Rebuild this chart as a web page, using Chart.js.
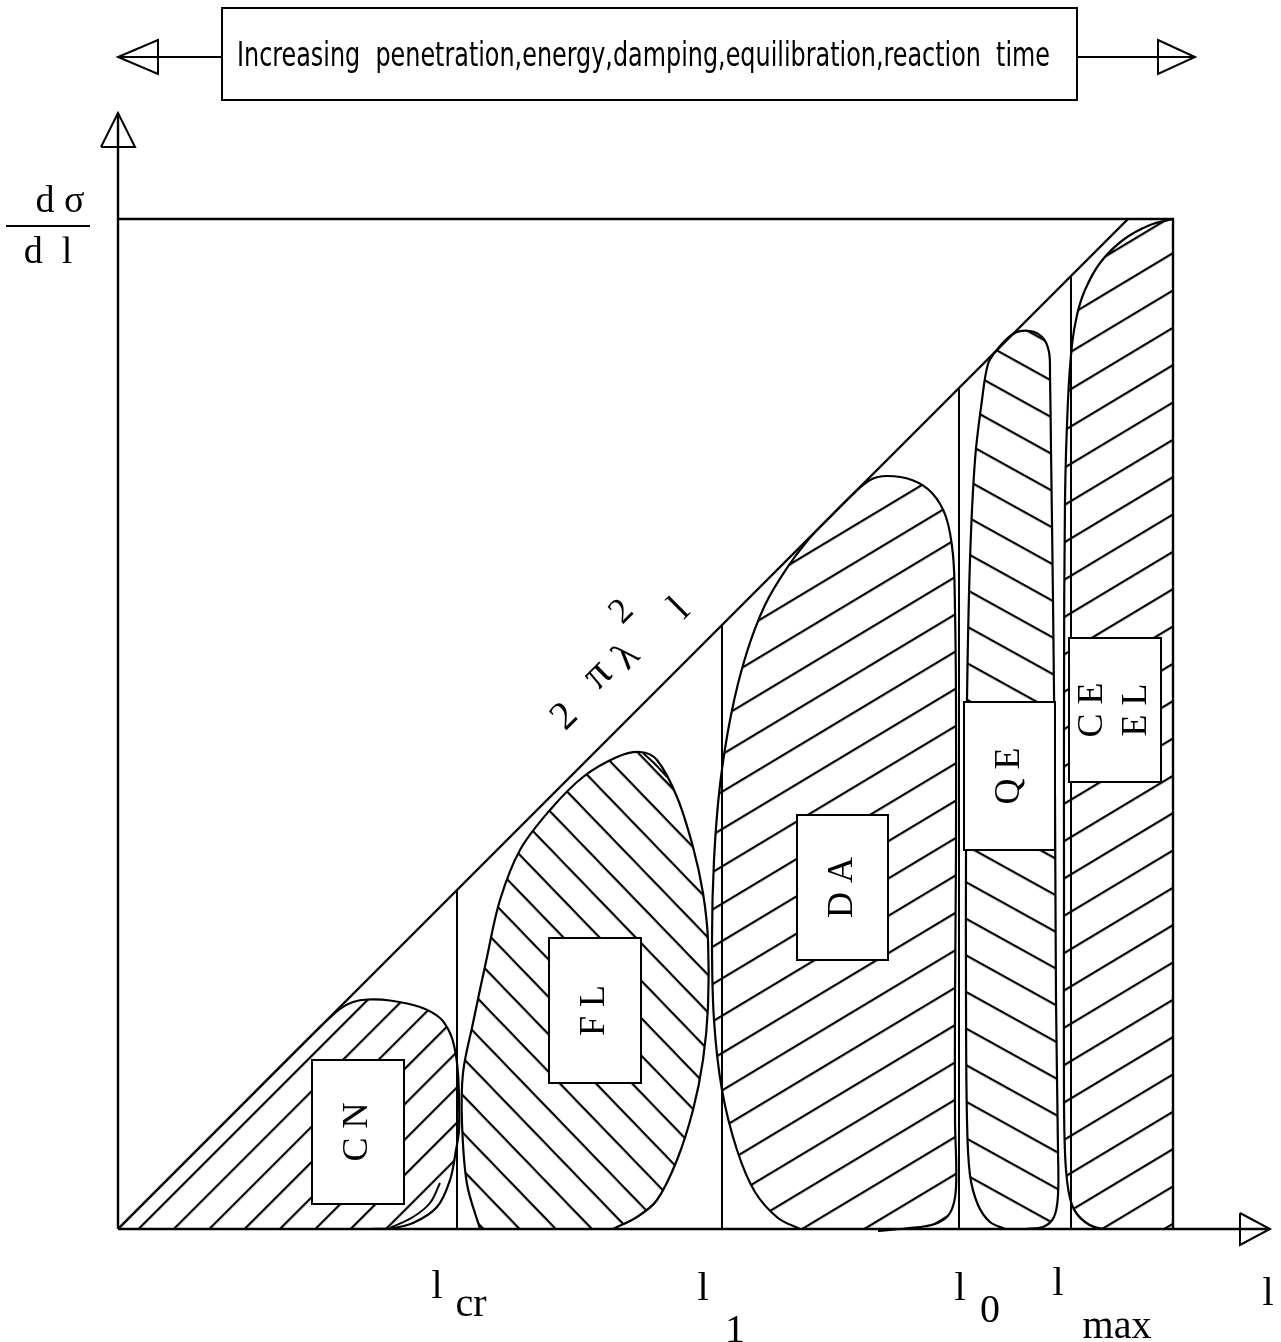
<!DOCTYPE html>
<html>
<head>
<meta charset="utf-8">
<title>Reaction mechanisms versus angular momentum</title>
<script src="https://cdn.jsdelivr.net/npm/chart.js@4.4.1/dist/chart.umd.min.js"></script>
<style>
  html, body { margin: 0; padding: 0; background: #fff; }
  #wrap { position: relative; width: 1281px; height: 1342px; }
</style>
</head>
<body>
<div id="wrap"><canvas id="chart" width="1281" height="1342"></canvas></div>
<script>
// ---------- data: angular momentum l and dσ/dl, arbitrary units ----------
const lRange = [0, 105.5];
const sigmaRange = [0, 101];
const grazingLine = [[0, 0], [101, 101]];          // dσ/dl = 2πλ² l
const lMarks = [33.9, 60.4, 84.1, 95.3];            // l_cr, l_1, l_0, l_max
const lMarkSubscripts = ['cr', '1', '0', 'max'];
const regionNames = ['CN', 'FL', 'DA', 'QE', 'CEEL'];
const regionLabels = [['C N'], ['F L'], ['D A'], ['Q E'], ['C E', 'E L']];

// region outlines (l, dσ/dl)
const cnOutline = [[0,0],[10,10],[20,20],[22.2,22.0],[23.5,22.7],[25,22.95],[27.2,22.85],[30.2,22.2],[32.2,21.1],
  [33.2,19.6],[33.7,17.9],[34.0,15.6],[34.1,12.9],[34.1,9.9],[33.8,7.9],[33.2,4.9],[31.9,2.2],[29.5,0.6],[27.2,0.05],[25.2,0]];
const flOutline = [[36.2,0],[34.9,4.5],[34.4,10.6],[34.5,15.6],[35.5,20.6],[36.9,27.2],[38.2,32.9],[40.2,37.9],[43.2,41.9],
  [46.5,45.2],[49.9,47.2],[52.2,47.7],[53.9,46.9],[55.9,43.2],[57.5,38.2],[58.5,33.6],[59.0,28.9],[59.0,22.2],[58.5,16.9],
  [57.5,11.9],[55.9,6.9],[53.9,2.9],[51.9,1.2],[49.5,0]];
const daOutline = [[68.2,0],[66.0,1.1],[63.7,3.7],[61.9,7.9],[60.4,13.9],[59.6,20.9],[59.4,28.9],[59.6,36.9],[60.2,44.4],
  [61.3,51.4],[62.8,57.4],[64.7,62.4],[66.9,66.1],[69.0,68.9],[71.2,71.2],[73.3,73.3],[75.2,74.9],[76.9,75.3],[79.4,74.9],
  [81.4,73.6],[82.8,71.2],[83.5,67.4],[83.7,61.9],[83.8,52.9],[83.8,37.9],[83.7,22.9],[83.7,10.9],[83.8,4.1],[83.2,1.6],
  [81.7,0.5],[78.7,0.05],[76.0,-0.2]];
const qeOutline = [[88.7,0],[87.2,0.7],[86.0,2.4],[85.2,5.4],[84.9,10.9],[84.8,22.9],[84.8,37.9],[84.9,52.9],[85.2,66.9],
  [85.7,76.9],[86.4,82.9],[87.0,86.5],[87.8,87.8],[89.5,89.5],[91.2,89.8],[92.5,89.1],[93.1,87.7],[93.2,85.4],[93.3,77.9],
  [93.5,62.9],[93.7,42.9],[93.8,22.9],[94.0,7.9],[94.0,3.4],[93.6,1.2],[92.5,0.2],[90.7,0]];
const ceelOutline = [[105.5,101],[103.2,100.4],[100.5,98.9],[98.2,96.6],[96.7,93.9],[95.9,91.4],[95.4,88.4],[95.0,82.9],
  [94.7,72.9],[94.6,52.9],[94.6,32.9],[94.6,12.9],[94.8,5.9],[95.4,2.4],[96.7,0.7],[98.6,0],[105.5,0]];
const cnInnerEdge = [[27.2,0.1],[29.5,1.2],[31.2,2.6],[32.2,4.6]];
const flInnerEdge = [[52.5,47.6],[53.6,46.6],[54.9,45.2]];

// ---------- styling ----------
const INK = '#000';
const hatchStyle = {
  CN:   { angle: -45, spacing: 25, anchor: [1.9, 0] },
  FL:   { angle: 46,  spacing: 26, anchor: [36.7, 0] },
  DA:   { angle: -31, spacing: 32, anchor: [68.2, 0] },
  QE:   { angle: 29,  spacing: 32, anchor: [88.2, 0] },
  CEEL: { angle: -31, spacing: 32, anchor: [98.2, 0] }
};
// label boxes: [l0, l1, s0, s1] in axis units
const labelBoxes = {
  CN: [19.4, 28.6, 2.5, 16.9],
  FL: [43.1, 52.3, 14.6, 29.1],
  DA: [67.9, 77.0, 26.9, 41.4],
  QE: [84.6, 93.7, 37.9, 52.7],
  CEEL: [95.1, 104.3, 44.7, 59.1]
};

const canvas = document.getElementById('chart');
const ctx0 = canvas.getContext('2d');

function makeHatch(spacing) {
  const tile = document.createElement('canvas');
  tile.width = 8; tile.height = spacing;
  const t = tile.getContext('2d');
  t.fillStyle = INK;
  t.fillRect(0, 0, 8, 2.2);
  return ctx0.createPattern(tile, 'repeat');
}
const patterns = {};
regionNames.forEach(n => { patterns[n] = makeHatch(hatchStyle[n].spacing); });

const toXY = arr => arr.map(([x, y]) => ({ x, y }));
function lineDs(points, extra) {
  return Object.assign({
    data: toXY(points), borderColor: INK, borderWidth: 2.4, pointRadius: 0,
    fill: false, tension: 0, clip: false
  }, extra || {});
}
function regionDs(name, outline) {
  return lineDs(outline, { fill: 'shape', backgroundColor: patterns[name], tension: 0.35, borderWidth: 2.2 });
}

const datasets = [
  // frame: top edge and right edge
  lineDs([[0, sigmaRange[1]], [lRange[1], sigmaRange[1]], [lRange[1], 0]]),
  // grazing line
  lineDs(grazingLine),
  // characteristic l values
  ...lMarks.map(l => lineDs([[l, 0], [l, l]], { borderWidth: 2 })),
  // axes with open arrowheads
  lineDs([[0, 0], [115.2, 0]]),
  lineDs([[112.2, 1.6], [115.2, 0], [112.2, -1.6], [112.2, 1.6]], { borderWidth: 2 }),
  lineDs([[0, 0], [0, 111.6]]),
  lineDs([[-1.7, 108.2], [0, 111.6], [1.7, 108.2], [-1.7, 108.2]], { borderWidth: 2 }),
  // hatched regions
  regionDs('CN', cnOutline),
  regionDs('FL', flOutline),
  regionDs('DA', daOutline),
  regionDs('QE', qeOutline),
  regionDs('CEEL', ceelOutline),
  lineDs(cnInnerEdge, { tension: 0.35, borderWidth: 2 }),
  lineDs(flInnerEdge, { tension: 0.35, borderWidth: 2 })
];

const SERIF = '"Liberation Serif", "DejaVu Serif", serif';

function fitText(ctx, text, cx, cy, width) {
  const w = ctx.measureText(text).width;
  ctx.save();
  ctx.translate(cx, cy);
  ctx.scale(width / w, 1);
  ctx.fillText(text, 0, 0);
  ctx.restore();
}

const diagramDecor = {
  id: 'diagramDecor',
  beforeDatasetsDraw(chart) {
    const X = v => chart.scales.x.getPixelForValue(v);
    const Y = v => chart.scales.y.getPixelForValue(v);
    regionNames.forEach(n => {
      const h = hatchStyle[n];
      patterns[n].setTransform(new DOMMatrix().translate(X(h.anchor[0]), Y(h.anchor[1])).rotate(h.angle));
    });
  },
  afterDatasetsDraw(chart) {
    const ctx = chart.ctx;
    const X = v => chart.scales.x.getPixelForValue(v);
    const Y = v => chart.scales.y.getPixelForValue(v);
    ctx.save();
    regionNames.forEach((n, i) => {
      const [a, b, c, d] = labelBoxes[n];
      const x0 = X(a), x1 = X(b), y0 = Y(d), y1 = Y(c);
      ctx.fillStyle = '#fff';
      ctx.fillRect(x0, y0, x1 - x0, y1 - y0);
      ctx.strokeStyle = INK; ctx.lineWidth = 2;
      ctx.strokeRect(x0, y0, x1 - x0, y1 - y0);
      const lines = regionLabels[i];
      ctx.fillStyle = INK;
      ctx.font = '36px ' + SERIF;
      ctx.textAlign = 'center'; ctx.textBaseline = 'middle';
      const cx = (x0 + x1) / 2, cy = (y0 + y1) / 2;
      const gap = 44;
      lines.forEach((t, k) => {
        ctx.save();
        ctx.translate(cx + (k - (lines.length - 1) / 2) * gap, cy);
        ctx.rotate(-Math.PI / 2);
        ctx.fillText(t, 0, 0);
        ctx.restore();
      });
    });
    ctx.restore();
  },
  afterDraw(chart) {
    const ctx = chart.ctx;
    const X = v => chart.scales.x.getPixelForValue(v);
    const Y = v => chart.scales.y.getPixelForValue(v);
    ctx.save();
    ctx.fillStyle = INK; ctx.strokeStyle = INK;

    // banner across the top
    const bx0 = X(10.4), bx1 = X(95.9), by0 = Y(122.1), by1 = Y(112.9), bym = Y(117.2);
    ctx.lineWidth = 2;
    ctx.strokeRect(bx0, by0, bx1 - bx0, by1 - by0);
    ctx.beginPath();
    ctx.moveTo(X(0), bym); ctx.lineTo(bx0, bym);
    ctx.moveTo(bx1, bym); ctx.lineTo(X(107.7), bym);
    // open arrowheads
    ctx.moveTo(X(4.0), bym - 17); ctx.lineTo(X(0), bym); ctx.lineTo(X(4.0), bym + 17); ctx.closePath();
    ctx.moveTo(X(104.0), bym - 17); ctx.lineTo(X(107.7), bym); ctx.lineTo(X(104.0), bym + 17); ctx.closePath();
    ctx.stroke();
    ctx.font = '33px "Liberation Sans Narrow", "DejaVu Sans Condensed", "Liberation Sans", sans-serif';
    ctx.textAlign = 'center'; ctx.textBaseline = 'middle';
    fitText(ctx, 'Increasing  penetration,energy,damping,equilibration,reaction  time', X(52.55), bym, 813);

    // y-axis title dσ / dl
    ctx.font = '38px ' + SERIF;
    ctx.textBaseline = 'alphabetic';
    ctx.fillText('d σ', X(-5.8), Y(101.7));
    ctx.fillText('d  l', X(-7.0), Y(96.6));
    ctx.lineWidth = 2.2;
    ctx.beginPath(); ctx.moveTo(X(-11.2), Y(100.3)); ctx.lineTo(X(-2.8), Y(100.3)); ctx.stroke();

    // labels under the l axis
    ctx.font = '40px ' + SERIF;
    const lPos = [[31.9, -6.9], [58.5, -7.1], [84.2, -7.1], [94.0, -6.6]];
    const subPos = [[35.3, -8.7], [61.7, -11.3], [87.2, -9.3], [99.9, -10.9]];
    lPos.forEach(([x, y], i) => {
      ctx.fillText('l', X(x), Y(y));
      ctx.fillText(lMarkSubscripts[i], X(subPos[i][0]), Y(subPos[i][1]));
    });
    ctx.fillText('l', X(115.0), Y(-7.6));

    // grazing-line formula along the diagonal
    ctx.textBaseline = 'middle';
    const glyphs = [['2', 44.7, 51.2, 40], ['π', 48.0, 55.4, 44], ['λ', 50.9, 57.2, 40], ['2', 50.4, 61.7, 36], ['l', 56.2, 62.0, 40]];
    glyphs.forEach(([g, x, y, s]) => {
      ctx.save();
      ctx.font = s + 'px ' + SERIF;
      ctx.translate(X(x), Y(y));
      ctx.rotate(-Math.PI / 4);
      ctx.fillText(g, 0, 0);
      ctx.restore();
    });
    ctx.restore();
  }
};

new Chart(canvas, {
  type: 'line',
  data: { datasets },
  options: {
    responsive: false,
    devicePixelRatio: 1,
    animation: false,
    events: [],
    layout: { padding: { left: 118, right: 108, top: 219, bottom: 113 } },
    scales: {
      x: { type: 'linear', min: lRange[0], max: lRange[1], display: false },
      y: { type: 'linear', min: sigmaRange[0], max: sigmaRange[1], display: false }
    },
    plugins: { legend: { display: false }, tooltip: { enabled: false } },
    elements: { point: { radius: 0 } }
  },
  plugins: [diagramDecor]
});
</script>
</body>
</html>
